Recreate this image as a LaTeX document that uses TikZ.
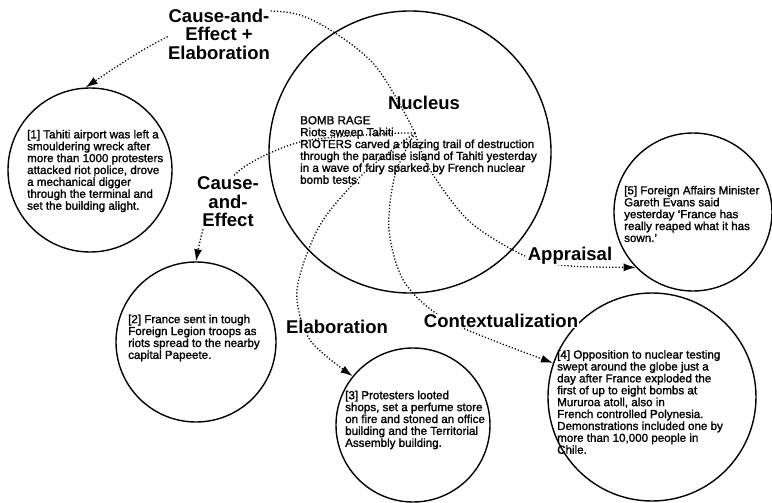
\documentclass[tikz,border=0pt]{standalone}
\usepackage{fontspec}
\setmainfont{Liberation Sans}
\newfontfamily\unitfont[FakeBold=1.5]{Liberation Sans}
\usetikzlibrary{arrows.meta}

\tikzset{
    unit/.style={draw, circle, line width=1.4pt, inner sep=0pt},
    body/.style={align=left, anchor=west, inner sep=0pt, font=\unitfont\fontsize{11.6}{11.9}\selectfont},
    rel/.style={fill=white, inner sep=0.5pt, align=center, font=\bfseries\fontsize{18.5}{18.5}\selectfont},
    link/.style={line width=1.3pt, dash pattern=on 1.2pt off 2pt, -{Latex[length=12pt,width=8pt]}}
}

\begin{document}
\begin{tikzpicture}[x=1pt, y=-1pt]
        \useasboundingbox (0,0) rectangle (772,503);

        % Nucleus and satellite circles
        \node[unit, minimum size=282pt] (nuc) at (410,152) {};
        \node[unit, minimum size=164pt] (n1) at (90,170) {};
        \node[unit, minimum size=160pt] (n2) at (196,342) {};
        \node[unit, minimum size=154pt] (n3) at (413,425) {};
        \node[unit, minimum size=208pt] (n4) at (652,397) {};
        \node[unit, minimum size=158pt] (n5) at (693,212) {};

        % Common start point of the relations
        \coordinate (hub) at (415,133);

        % Relations (dotted arrows)
        \draw[link] plot[smooth] coordinates {(hub) (372,62) (300,15) (220,15) (150,46) (n1.93)};
        \draw[link] plot[smooth] coordinates {(hub) (380,134) (300,142) (240,170) (208,215) (n2.north)};
        \draw[link] plot[smooth] coordinates {(hub) (365,172) (320,225) (297,290) (310,340) (n3.141)};
        \draw[link] plot[smooth] coordinates {(hub) (395,175) (389,230) (405,283) (450,322) (n4.161)};
        \draw[link] plot[smooth] coordinates {(hub) (430,170) (470,222) (527,257) (570,266) (n5.224)};

        % Relation labels
        \node[rel] (lce1) at (219,34) {Cause-and-\\Effect +\\Elaboration};
        \node[rel] (lce2) at (228,202) {Cause-\\and-\\Effect};
        \node[rel] (lel) at (337,327) {Elaboration};
        \node[rel] (lco) at (501,321) {Contextualization};
        \node[rel] (lap) at (570,256) {Appraisal};
        \node[rel, fill=none] (lnuc) at (424,103) {Nucleus};

        % Texts of the units
        \node[body] (tnuc) at (300,150) {BOMB RAGE\\Riots sweep Tahiti\\RIOTERS carved a blazing trail of destruction\\through the paradise island of Tahiti yesterday\\in a wave of fury sparked by French nuclear\\bomb tests.};
        \node[body] (t1) at (27,171) {[1] Tahiti airport was left a\\smouldering wreck after\\more than 1000 protesters\\attacked riot police, drove\\a mechanical digger\\through the terminal and\\set the building alight.};
        \node[body] (t2) at (128,338) {[2] France sent in tough\\Foreign Legion troops as\\riots spread to the nearby\\capital Papeete.};
        \node[body] (t3) at (345,420) {[3] Protesters looted\\shops, set a perfume store\\on fire and stoned an office\\building and the Territorial\\Assembly building.};
        \node[body] (t4) at (557,402) {[4] Opposition to nuclear testing\\swept around the globe just a\\day after France exploded the\\first of up to eight bombs at\\Mururoa atoll, also in\\French controlled Polynesia.\\Demonstrations included one by\\more than 10,000 people in\\Chile.};
        \node[body] (t5) at (624,214) {[5] Foreign Affairs Minister\\Gareth Evans said\\yesterday ‘France has\\really reaped what it has\\sown.’};
    \end{tikzpicture}
\end{document}
